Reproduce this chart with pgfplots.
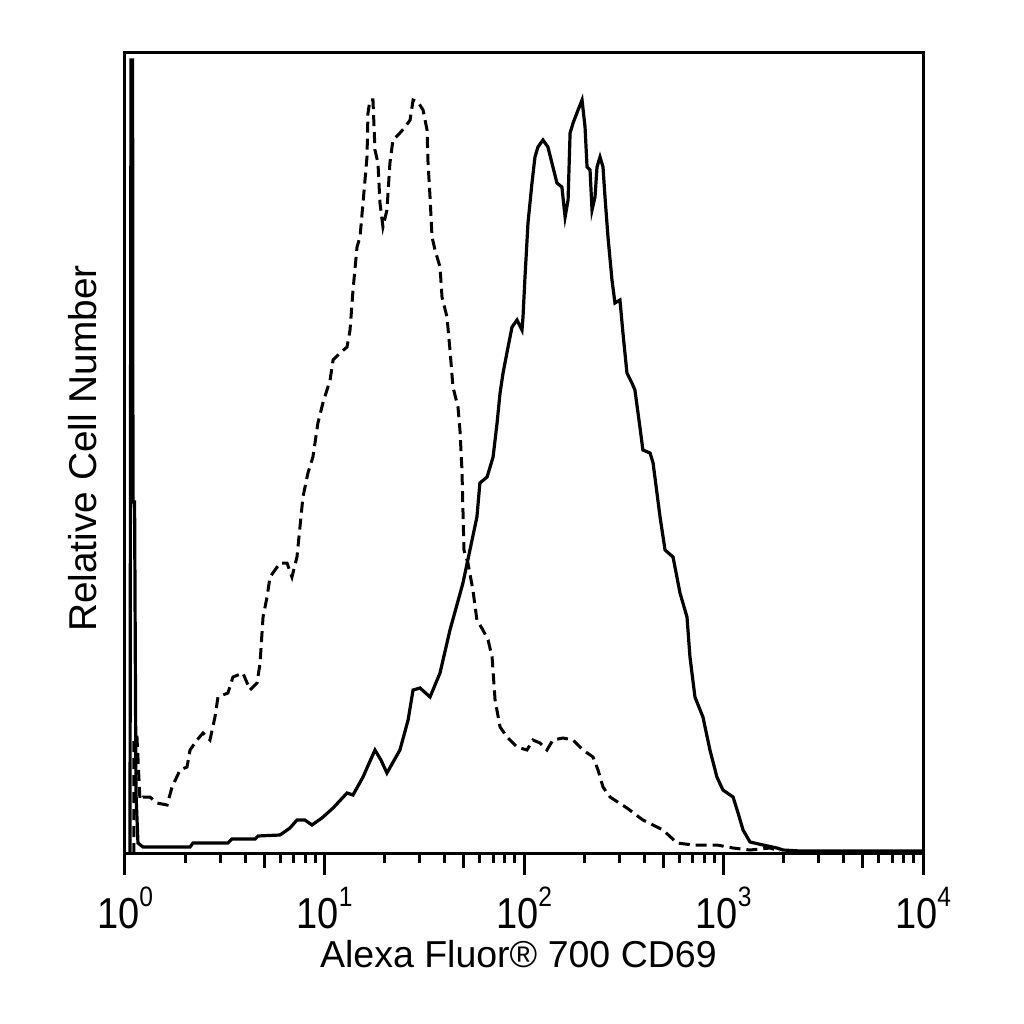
\documentclass[border=0pt]{standalone}
\usepackage{fontspec}
\setmainfont{Liberation Sans}
\usepackage{graphicx}
\usepackage{pgfplots}
\pgfplotsset{compat=1.18}
\usetikzlibrary{calc}

% tick label: 10 with a raised exponent, slightly stretched like the scan
\newcommand{\tl}[1]{\scalebox{1}[1.14]{10\raisebox{9.3pt}{\fontsize{12.3}{14}\selectfont #1}}}

\begin{document}
\begin{tikzpicture}
\begin{axis}[
	scale only axis,
	width=399pt, height=400pt,
	xmin=0, xmax=4, ymin=0, ymax=800,
	axis line style={line width=1.5pt},
	ytick=\empty,
	xtick pos=bottom,
	xtick={0,1,2,3,4},
	xticklabels={\tl{0},\tl{1},\tl{2},\tl{3},\tl{4}},
	minor xtick={0.301,0.477,0.602,0.778,0.845,0.903,0.954,
		1.301,1.477,1.602,1.778,1.845,1.903,1.954,
		2.301,2.477,2.602,2.778,2.845,2.903,2.954,
		3.301,3.477,3.602,3.778,3.845,3.903,3.954},
	extra x ticks={0.699,1.699,2.699,3.699},
	extra x tick labels={},
	extra x tick style={major tick length=7.5pt},
	tick align=outside,
	major tick length=11pt,
	minor tick length=5pt,
	every tick/.style={black, line width=1.5pt},
	xticklabel style={anchor=base, yshift=-26.5pt},
	tick label style={font=\fontsize{19}{22}\selectfont},
	xlabel={Alexa Fluor® 700 CD69},
	xlabel style={font=\fontsize{18.75}{22}\selectfont,
		at={(rel axis cs:0.493,0)}, anchor=base, yshift=-57pt},
	ylabel={Relative Cell Number},
	ylabel style={font=\fontsize{19.4}{22}\selectfont,
		at={(rel axis cs:0,0.5056)}, anchor=base, yshift=14pt},
]
% isotype control (dashed)
\addplot[black, line width=1.5pt, dash pattern=on 5.5pt off 3pt] coordinates {
	(0.040,0) (0.045,0) (0.045,116) (0.060,116) (0.075,53) (0.090,56)
	(0.125,56) (0.160,50) (0.211,48) (0.236,66) (0.276,83) (0.311,86)
	(0.326,103) (0.361,113) (0.391,120) (0.426,113) (0.451,136) (0.466,156)
	(0.516,160) (0.541,176) (0.591,180) (0.627,163) (0.662,170) (0.677,190)
	(0.692,236) (0.712,256) (0.727,276) (0.777,290) (0.812,290) (0.837,276)
	(0.862,296) (0.877,326) (0.892,356) (0.917,380) (0.942,396) (0.967,430)
	(0.992,450) (1.028,473) (1.043,493) (1.078,500) (1.113,506) (1.128,523)
	(1.143,563) (1.163,606) (1.178,616) (1.193,650) (1.213,696) (1.218,740)
	(1.228,753) (1.243,753) (1.253,703) (1.268,690) (1.278,650) (1.293,626)
	(1.313,643) (1.328,690) (1.343,713) (1.378,720) (1.404,726) (1.429,733)
	(1.444,753) (1.469,751) (1.494,743) (1.514,723) (1.519,690) (1.529,656)
	(1.539,616) (1.554,603) (1.579,586) (1.589,556) (1.614,536) (1.629,503)
	(1.644,466) (1.669,446) (1.679,423) (1.689,383) (1.699,303) (1.719,290)
	(1.744,263) (1.764,233) (1.794,223) (1.820,213) (1.840,196) (1.855,153)
	(1.880,126) (1.915,116) (1.965,106) (2.015,103) (2.045,113) (2.080,110)
	(2.115,103) (2.145,113) (2.195,115) (2.246,113) (2.296,103) (2.346,96)
	(2.371,83) (2.396,66) (2.431,56) (2.516,45) (2.596,33) (2.697,23)
	(2.767,10) (2.847,8) (2.967,8) (3.048,5) (3.133,3) (3.233,5) (3.283,2)
};
% CD69 stained (solid)
\addplot[black, line width=1.6pt] coordinates {
	(0.025,0) (0.030,793) (0.038,793) (0.040,351) (0.048,351) (0.055,60)
	(0.065,10) (0.090,6) (0.326,6) (0.341,10) (0.516,10) (0.536,14)
	(0.652,14) (0.667,17) (0.777,18) (0.827,25) (0.862,33) (0.902,33)
	(0.937,28) (0.987,35) (1.043,45) (1.113,60) (1.143,58) (1.193,76)
	(1.253,103) (1.283,93) (1.313,80) (1.378,103) (1.419,133) (1.444,163)
	(1.479,165) (1.529,156) (1.579,180) (1.629,223) (1.694,270) (1.729,303)
	(1.764,336) (1.779,370) (1.815,376) (1.845,396) (1.865,430) (1.880,460)
	(1.895,480) (1.920,506) (1.940,526) (1.965,533) (1.990,523) (1.995,536)
	(2.005,576) (2.020,630) (2.040,670) (2.055,696) (2.070,706) (2.095,713)
	(2.120,706) (2.145,686) (2.165,670) (2.190,666) (2.206,636) (2.221,653)
	(2.231,720) (2.246,730) (2.271,743) (2.291,753) (2.306,726) (2.316,686)
	(2.331,683) (2.341,643) (2.356,656) (2.366,686) (2.381,696) (2.396,686)
	(2.406,656) (2.421,616) (2.441,573) (2.456,550) (2.481,553) (2.496,520)
	(2.516,480) (2.541,470) (2.556,463) (2.581,426) (2.596,403) (2.632,400)
	(2.647,390) (2.682,336) (2.707,303) (2.747,296) (2.782,260) (2.817,236)
	(2.832,196) (2.857,156) (2.897,136) (2.932,103) (2.967,76) (2.997,63)
	(3.048,56) (3.073,40) (3.098,23) (3.133,11) (3.198,8) (3.268,5)
	(3.298,3) (3.383,2) (3.995,2)
};
\end{axis}
\pgfresetboundingbox
\path ($(current axis.south west)+(-62.5pt,-85.5pt)$) rectangle ($(current axis.north east)+(50.5pt,26.5pt)$);
\end{tikzpicture}
\end{document}
